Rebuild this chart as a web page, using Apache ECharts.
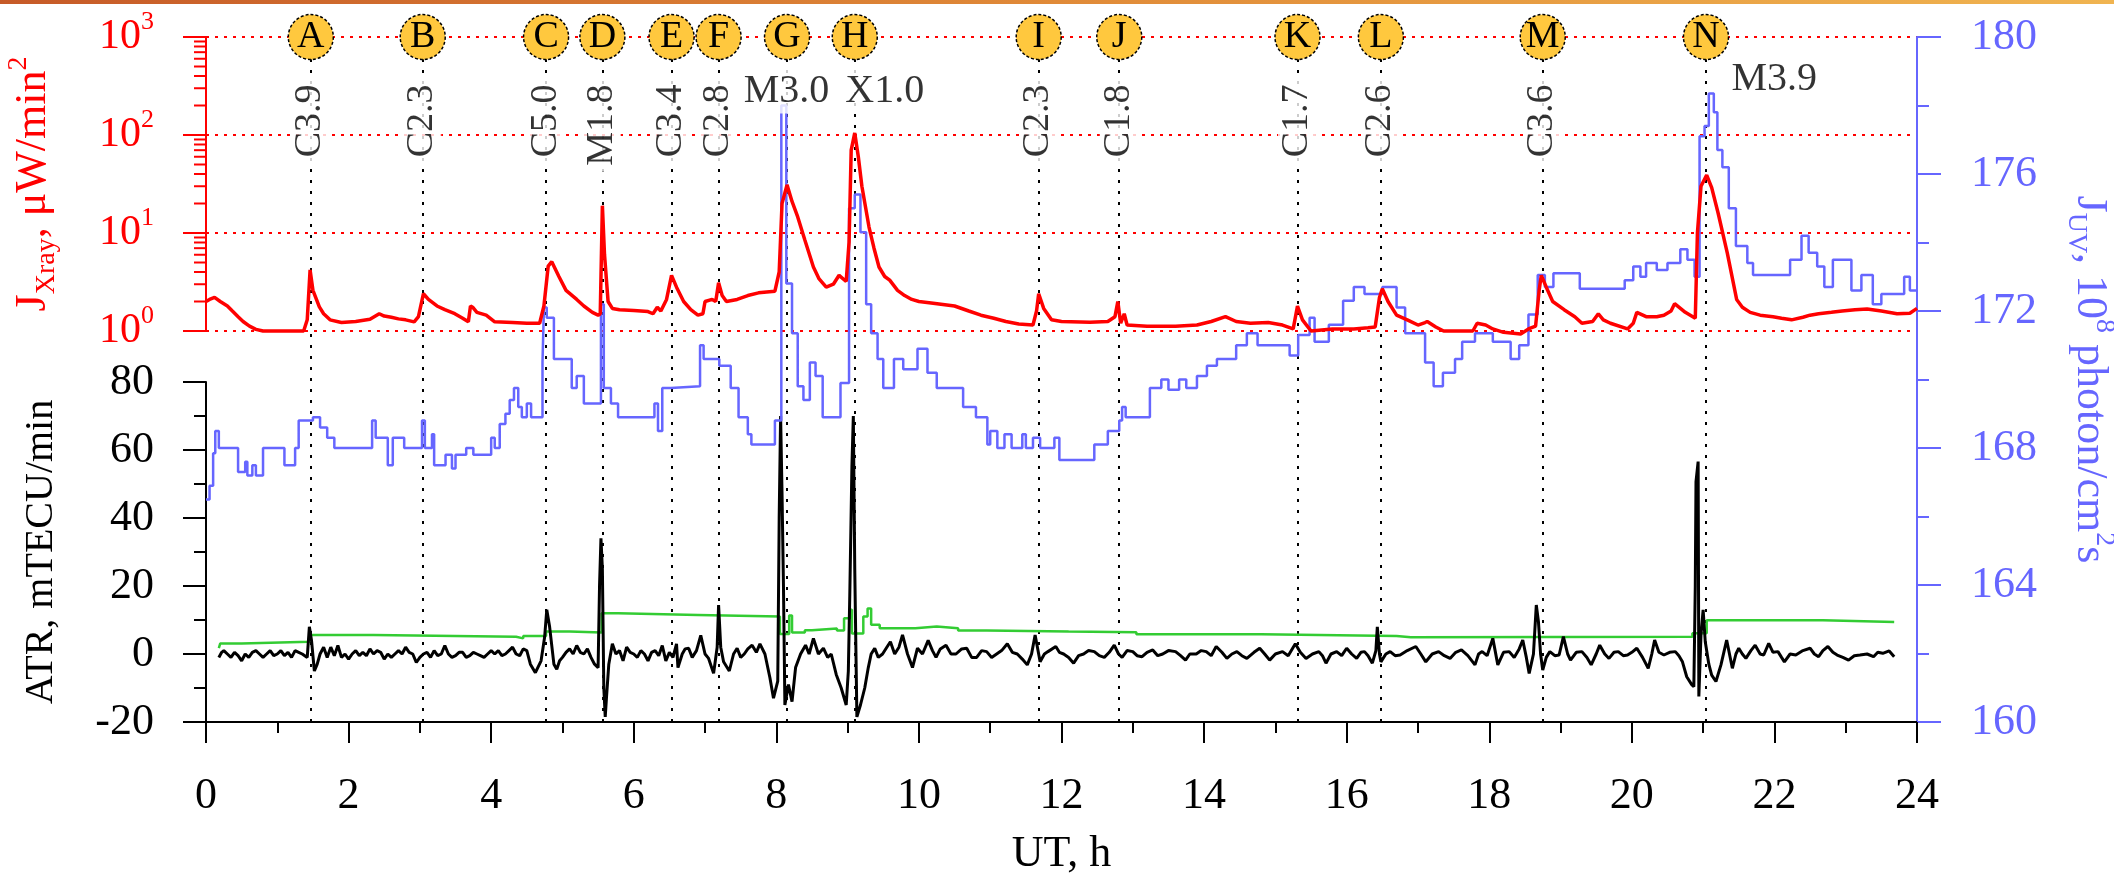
<!DOCTYPE html>
<html><head><meta charset="utf-8">
<script src="https://cdn.jsdelivr.net/npm/echarts@6/dist/echarts.min.js"></script>
<style>html,body{margin:0;padding:0;background:#fff}#c{width:2114px;height:876px}</style>
</head><body><div id="c"></div><script>
const FONT = 'Liberation Serif';
const RED = '#ff0000', BLUE = '#6666ff', GREEN = '#33cc33', BLACK = '#000000';

// ---- axes / ticks ----
const xTicks = [0, 2, 4, 6, 8, 10, 12, 14, 16, 18, 20, 22, 24];
const xrayTicks = [1, 10, 100, 1000];
const xrayMinorTicks = [2,3,4,5,6,7,8,9,20,30,40,50,60,70,80,90,200,300,400,500,600,700,800,900];
const atrTicks = [-20, 0, 20, 40, 60, 80];
const uvTicks = [160, 164, 168, 172, 176, 180];

// ---- flare events ----
const flareLetters = ['A','B','C','D','E','F','G','H','I','J','K','L','M','N'];
const flareTimes = [1.47, 3.04, 4.77, 5.56, 6.53, 7.19, 8.15, 9.10, 11.68, 12.81, 15.31, 16.48, 18.75, 21.04];
const flareClasses = ['C3.9','C2.3','C5.0','M1.8','C3.4','C2.8','M3.0','X1.0','C2.3','C1.8','C1.7','C2.6','C3.6','M3.9'];

// ---- X-ray flux, uW/min^2 (UT h, value) ----
const xrayFlux = [[0,2.0],[0.05,2.1],[0.12,2.2],[0.2,2.0],[0.3,1.8],[0.37,1.6],[0.45,1.4],[0.52,1.25],[0.61,1.12],[0.7,1.04],[0.8,1.0],[1.37,1.0],[1.42,1.3],[1.46,4.2],[1.5,2.6],[1.59,1.76],[1.65,1.5],[1.74,1.3],[1.9,1.22],[2.1,1.25],[2.3,1.32],[2.43,1.5],[2.5,1.42],[2.6,1.38],[2.7,1.33],[2.8,1.3],[2.92,1.24],[2.98,1.4],[3.05,2.4],[3.12,2.1],[3.24,1.8],[3.35,1.65],[3.49,1.5],[3.6,1.35],[3.68,1.24],[3.71,1.8],[3.74,1.75],[3.8,1.55],[3.93,1.45],[4.05,1.24],[4.3,1.22],[4.5,1.2],[4.68,1.2],[4.74,1.8],[4.8,4.6],[4.85,5.1],[4.95,3.6],[5.05,2.6],[5.2,2.1],[5.3,1.8],[5.42,1.55],[5.5,1.45],[5.53,1.5],[5.56,19],[5.59,6],[5.64,2.0],[5.7,1.7],[5.8,1.65],[6.0,1.62],[6.2,1.58],[6.27,1.5],[6.33,1.75],[6.38,1.6],[6.46,2.1],[6.53,3.7],[6.6,2.8],[6.7,2.0],[6.8,1.65],[6.9,1.45],[6.97,1.5],[7.0,2.0],[7.1,2.1],[7.15,2.0],[7.19,3.1],[7.24,2.3],[7.3,2.0],[7.45,2.1],[7.6,2.3],[7.75,2.45],[7.98,2.55],[8.04,4],[8.08,20],[8.15,31],[8.22,21],[8.3,14.6],[8.4,8.5],[8.52,4.5],[8.6,3.4],[8.7,2.8],[8.8,3.0],[8.88,3.7],[8.98,3.2],[9.02,8],[9.05,70],[9.1,105],[9.15,60],[9.2,30],[9.3,11.5],[9.37,7],[9.44,4.5],[9.52,3.6],[9.59,3.3],[9.7,2.6],[9.8,2.3],[9.9,2.1],[10.0,2.0],[10.2,1.92],[10.5,1.8],[10.7,1.6],[10.87,1.45],[11.05,1.35],[11.22,1.25],[11.4,1.18],[11.6,1.15],[11.65,1.6],[11.68,2.4],[11.75,1.7],[11.86,1.3],[12.0,1.25],[12.4,1.23],[12.65,1.25],[12.75,1.4],[12.79,2.0],[12.83,1.2],[12.88,1.5],[12.92,1.15],[13.2,1.12],[13.6,1.12],[13.9,1.15],[14.1,1.25],[14.3,1.4],[14.45,1.25],[14.65,1.2],[14.9,1.22],[15.1,1.15],[15.25,1.05],[15.31,1.8],[15.38,1.3],[15.5,1.0],[15.8,1.05],[16.1,1.05],[16.3,1.08],[16.4,1.1],[16.46,2.2],[16.5,2.7],[16.58,2.0],[16.7,1.45],[16.85,1.3],[17.0,1.15],[17.1,1.22],[17.13,1.25],[17.25,1.1],[17.36,1.0],[17.77,1.0],[17.83,1.2],[17.95,1.15],[18.05,1.05],[18.2,0.97],[18.44,0.93],[18.55,1.05],[18.65,1.12],[18.7,2.6],[18.73,3.7],[18.8,2.8],[18.89,2.0],[19.05,1.65],[19.2,1.4],[19.3,1.2],[19.45,1.25],[19.53,1.5],[19.6,1.3],[19.7,1.2],[19.94,1.05],[20.02,1.2],[20.07,1.55],[20.2,1.4],[20.35,1.4],[20.45,1.45],[20.55,1.6],[20.6,1.9],[20.75,1.55],[20.89,1.35],[20.92,10],[20.97,30],[21.05,39],[21.12,29],[21.21,16],[21.34,6.2],[21.47,2.1],[21.55,1.75],[21.66,1.55],[21.8,1.45],[21.98,1.4],[22.1,1.35],[22.24,1.3],[22.4,1.38],[22.5,1.45],[22.62,1.5],[22.8,1.55],[22.95,1.6],[23.13,1.65],[23.3,1.68],[23.5,1.6],[23.72,1.5],[23.9,1.52],[24.0,1.7]];

// ---- UV flux, 10^8 photon/cm^2 s (UT h, level held until next point) ----
const uvFlux = [[0,166.5],[0.05,166.9],[0.1,167.85],[0.13,168.5],[0.18,168.0],[0.45,167.3],[0.55,167.6],[0.58,167.2],[0.65,167.5],[0.7,167.2],[0.8,168.0],[1.1,167.5],[1.25,168.0],[1.3,168.8],[1.5,168.9],[1.6,168.6],[1.7,168.3],[1.8,168.0],[2.33,168.8],[2.38,168.3],[2.55,167.5],[2.62,168.3],[2.78,168.0],[3.03,168.8],[3.07,168.0],[3.17,168.4],[3.2,167.5],[3.36,167.8],[3.45,167.4],[3.5,167.8],[3.65,168.0],[3.75,167.8],[4.0,168.3],[4.05,168.0],[4.12,168.7],[4.2,169.0],[4.26,169.4],[4.32,169.75],[4.38,169.2],[4.43,168.9],[4.5,169.3],[4.56,168.9],[4.72,170.5],[4.74,172.1],[4.78,171.8],[4.88,170.6],[5.13,169.75],[5.2,170.1],[5.3,169.3],[5.54,172.2],[5.58,169.75],[5.68,169.3],[5.78,168.9],[6.29,169.3],[6.34,168.5],[6.4,169.75],[6.52,169.8],[6.93,171.0],[6.98,170.6],[7.2,170.4],[7.36,169.75],[7.47,168.9],[7.6,168.4],[7.65,168.1],[7.98,168.8],[8.07,178.0],[8.14,172.8],[8.22,171.35],[8.3,169.8],[8.38,169.4],[8.47,170.5],[8.55,170.1],[8.65,168.9],[8.9,169.9],[9.02,175.0],[9.1,175.4],[9.18,174.3],[9.26,172.2],[9.33,171.35],[9.42,170.6],[9.5,169.75],[9.65,170.6],[9.78,170.3],[9.98,170.9],[10.12,170.2],[10.25,169.75],[10.62,169.2],[10.8,168.9],[10.96,168.1],[11.0,168.5],[11.1,168.0],[11.2,168.4],[11.3,168.0],[11.45,168.4],[11.5,168.0],[11.6,168.3],[11.7,168.0],[11.9,168.3],[11.97,167.65],[12.46,168.1],[12.65,168.5],[12.81,168.8],[12.85,169.2],[12.9,168.9],[13.24,169.75],[13.4,170.0],[13.5,169.7],[13.65,170.0],[13.75,169.75],[13.9,170.1],[14.04,170.4],[14.18,170.6],[14.45,171.0],[14.6,171.35],[14.75,171.0],[15.2,170.7],[15.32,171.3],[15.48,171.8],[15.55,171.1],[15.75,171.6],[15.95,172.3],[16.1,172.7],[16.25,172.5],[16.5,172.7],[16.7,172.1],[16.82,171.35],[17.1,170.5],[17.22,169.8],[17.35,170.2],[17.52,170.6],[17.62,171.1],[17.8,171.35],[18.05,171.1],[18.3,170.6],[18.42,171.0],[18.55,171.9],[18.68,173.05],[18.78,172.7],[18.9,173.1],[19.27,172.65],[19.9,172.9],[20.02,173.3],[20.12,173.0],[20.2,173.4],[20.35,173.2],[20.5,173.4],[20.68,173.8],[20.78,173.5],[20.88,173.0],[20.95,177.1],[21.02,177.4],[21.08,178.35],[21.15,177.8],[21.2,176.7],[21.27,176.2],[21.36,175.0],[21.46,173.9],[21.62,173.4],[21.7,173.05],[22.22,173.5],[22.38,174.2],[22.48,173.7],[22.6,173.3],[22.7,172.7],[22.82,173.5],[23.08,172.6],[23.22,173.05],[23.38,172.2],[23.5,172.5],[23.82,173.0],[23.9,172.6],[24.0,172.6]];

// ---- ATR background level, mTECU/min (green) ----
const atrLevel = [[0.18,1.7],[0.2,3.1],[0.5,3.6],[1.45,5.6],[2.35,5.1],[4.35,4.6],[4.45,5.3],[4.77,6.6],[5.1,6.3],[5.55,12.0],[5.78,11.5],[6.9,11.0],[8.05,5.9],[8.18,11.3],[8.22,6.3],[8.4,7.0],[8.5,7.5],[8.85,6.9],[8.95,10.5],[9.03,13.0],[9.06,6.0],[9.22,11.0],[9.28,13.4],[9.33,8.6],[9.45,7.6],[9.95,8.1],[10.25,7.6],[10.55,6.9],[10.95,6.6],[12.1,6.4],[13.05,5.8],[14.8,5.3],[16.7,4.9],[16.9,5.1],[20.85,6.1],[21.05,9.9],[22.68,9.4],[23.68,9.4]];

// ---- ATR, mTECU/min (black) ----
const atr = [[0.18,-1],[0.22,0.5],[0.25,1],[0.3,0],[0.35,-1],[0.4,0.5],[0.45,-0.5],[0.5,-2],[0.55,0],[0.6,-1],[0.65,0.5],[0.7,1],[0.75,0],[0.8,-1],[0.85,0],[0.9,1],[0.95,-0.5],[1.0,0],[1.05,1],[1.1,-0.5],[1.15,0.5],[1.2,-1],[1.25,1],[1.3,0.5],[1.35,0],[1.42,-1],[1.45,8],[1.48,4],[1.52,-5],[1.56,-3],[1.6,0],[1.65,2],[1.7,-1],[1.75,2],[1.8,-0.5],[1.85,2.5],[1.9,-1],[1.95,0],[2.0,-1.5],[2.05,0],[2.1,1],[2.15,-0.5],[2.2,0.5],[2.25,-0.5],[2.3,1.5],[2.35,0],[2.4,1],[2.45,0.5],[2.5,-1.5],[2.55,0],[2.6,-1],[2.65,0],[2.7,1],[2.75,0],[2.8,2],[2.85,0.5],[2.9,0],[2.95,-2.5],[3.0,-1],[3.05,0],[3.1,0.5],[3.15,-1],[3.2,1],[3.25,-0.5],[3.3,0],[3.35,2.5],[3.4,0],[3.45,-1],[3.5,-0.5],[3.55,0.5],[3.6,0.5],[3.65,-1],[3.7,-0.5],[3.75,0.5],[3.8,0],[3.85,-0.5],[3.9,-1],[3.95,0],[4.0,1],[4.05,0],[4.1,1],[4.15,-0.5],[4.2,0],[4.25,1],[4.3,2],[4.35,0],[4.4,-0.5],[4.45,1.5],[4.5,1],[4.55,-3],[4.62,-5.5],[4.7,-2],[4.75,5],[4.78,13],[4.82,8],[4.88,-3],[4.92,-4.5],[4.96,-2],[5.0,-1],[5.05,0.5],[5.1,1.5],[5.15,0],[5.2,2.5],[5.25,0.5],[5.3,0],[5.35,1.5],[5.4,-1],[5.45,-3],[5.5,-4],[5.52,20],[5.54,34],[5.56,25],[5.58,-10],[5.6,-18.5],[5.62,-12],[5.65,-3],[5.7,3],[5.75,0],[5.8,1],[5.85,-2],[5.9,2],[5.95,0.5],[6.0,0],[6.05,-1],[6.1,1],[6.15,0],[6.2,-2],[6.25,0.5],[6.3,1],[6.35,-0.5],[6.4,2.5],[6.45,-2],[6.5,0.5],[6.55,-1],[6.6,3],[6.62,-4],[6.68,0],[6.72,1.5],[6.77,1.7],[6.82,-1],[6.88,1],[6.94,5.5],[7.0,0],[7.05,-1.3],[7.12,-5.7],[7.17,2],[7.19,14.4],[7.22,2],[7.26,-2.3],[7.34,-5],[7.4,0],[7.45,1.7],[7.5,-1],[7.55,0],[7.6,1.5],[7.66,2.6],[7.72,0.5],[7.77,3],[7.84,0],[7.91,-7],[7.96,-13],[8.02,-8],[8.04,40],[8.06,70],[8.08,47],[8.1,20],[8.12,-15],[8.17,-9],[8.22,-14],[8.27,-4],[8.34,0],[8.41,2.6],[8.46,0],[8.52,4.6],[8.59,0],[8.66,1.7],[8.72,-1],[8.77,0],[8.84,-6],[8.91,-10],[8.98,-15],[9.01,-5],[9.03,17],[9.06,55],[9.08,70],[9.1,25],[9.13,-18.5],[9.18,-15],[9.24,-10],[9.29,-4],[9.33,0],[9.38,1.7],[9.43,-1],[9.49,0],[9.55,2],[9.6,3.6],[9.66,0],[9.72,2],[9.77,5.6],[9.84,0],[9.91,-4],[9.98,1.7],[10.05,0],[10.13,4],[10.19,1],[10.24,-1],[10.3,1.5],[10.38,2.6],[10.45,0],[10.52,0],[10.6,1.5],[10.67,1.7],[10.74,-1],[10.81,-1],[10.88,1],[10.95,0.7],[11.02,-1],[11.09,0],[11.16,1],[11.24,3],[11.31,0.5],[11.38,0],[11.45,-1.5],[11.52,-3.2],[11.58,0],[11.63,5.6],[11.7,-2.3],[11.76,0],[11.81,0.7],[11.92,2.2],[11.97,0.5],[12.03,0],[12.1,-1],[12.17,-2.7],[12.24,-0.5],[12.31,0],[12.38,1],[12.46,0.7],[12.53,-0.5],[12.6,-1],[12.67,0.5],[12.74,2.6],[12.8,0],[12.85,-1],[12.92,1],[13.0,0.7],[13.06,-0.5],[13.13,-0.8],[13.2,0.5],[13.28,1.2],[13.35,-0.5],[13.42,0],[13.5,1],[13.6,0.7],[13.67,-0.5],[13.74,-1.8],[13.8,0],[13.89,0],[13.96,1],[14.03,0.7],[14.1,-0.5],[14.17,2.2],[14.25,0.5],[14.32,-1.3],[14.39,0],[14.46,0.7],[14.53,-0.5],[14.6,-1.3],[14.7,0.5],[14.78,1.7],[14.85,0],[14.92,-1.8],[15.0,0],[15.1,0.7],[15.18,-0.5],[15.28,3],[15.35,0.5],[15.43,-1.3],[15.52,0],[15.61,0.7],[15.66,-0.5],[15.71,-2.7],[15.78,0],[15.86,0.7],[15.93,-0.5],[16.0,1.7],[16.07,0],[16.14,-1.3],[16.2,0.5],[16.25,0.7],[16.3,-0.5],[16.36,-2.7],[16.41,1],[16.43,8],[16.46,0],[16.48,-2.3],[16.55,0],[16.61,0.7],[16.68,-0.5],[16.75,-0.3],[16.85,1],[16.97,2.2],[17.04,0],[17.11,-2.3],[17.2,0],[17.29,0.7],[17.37,-0.5],[17.45,-1.3],[17.53,0.5],[17.61,1.2],[17.7,-0.5],[17.8,-3.2],[17.85,0],[17.9,0.7],[17.97,-0.5],[18.05,4.6],[18.12,-3.2],[18.2,0.5],[18.28,0.7],[18.35,-1],[18.42,1.5],[18.47,4.1],[18.52,-1],[18.56,-5.7],[18.62,0],[18.66,14.4],[18.69,9.5],[18.72,0],[18.75,-4.7],[18.8,-1],[18.85,0.7],[18.92,-0.5],[18.98,-0.3],[19.04,5.1],[19.1,0],[19.14,-1.8],[19.22,0.5],[19.3,0.7],[19.37,-1],[19.43,-3.2],[19.5,0],[19.55,2.6],[19.62,0],[19.68,-1.3],[19.75,0.5],[19.81,0.7],[19.88,-0.5],[19.94,-0.3],[20.0,0.5],[20.07,1.7],[20.15,-1],[20.23,-4.2],[20.28,0],[20.32,4.1],[20.38,0.5],[20.45,-0.3],[20.53,0.5],[20.61,0.7],[20.66,-0.5],[20.71,-2.3],[20.77,-6.7],[20.84,-9],[20.87,-9.6],[20.89,20],[20.9,50.7],[20.93,56.6],[20.94,-12.5],[20.97,5.6],[21.0,13],[21.03,3.6],[21.08,-3],[21.12,-6.2],[21.18,-8.1],[21.25,-3.2],[21.33,4.1],[21.41,-4.2],[21.46,0],[21.5,1.7],[21.55,0],[21.6,-1.3],[21.67,1],[21.73,2.6],[21.8,0],[21.85,-0.3],[21.92,3.1],[21.98,0.5],[22.05,0.7],[22.1,-1],[22.14,-2.3],[22.22,0],[22.3,-0.3],[22.4,1],[22.5,1.7],[22.56,0],[22.62,-0.8],[22.68,1],[22.75,2.2],[22.82,0.5],[22.88,-0.3],[22.96,-1],[23.04,-1.8],[23.12,-0.5],[23.2,-0.3],[23.3,0],[23.39,-0.8],[23.45,0.5],[23.52,0.2],[23.61,0.9],[23.68,-0.8]];

// ---------------- layout / styling ----------------
const GL = 206, GR = 197;
const uvTop = uvTicks[uvTicks.length - 1];
const upright = {
  G: {position: [0, 55], align: 'center', bg: '#ffffff'},
  H: {position: [-11, 55], align: 'left', bg: '#ffffff'},
  N: {position: [24, 43], align: 'left', bg: 'transparent'}
};

const chart = echarts.init(document.getElementById('c'), null, {renderer: 'canvas'});

const xAxes = [0, 1, 2].map(i => ({
  gridIndex: i, type: 'value', min: xTicks[0], max: xTicks[xTicks.length - 1],
  interval: xTicks[1] - xTicks[0], show: i === 2,
  axisLine: {show: true, onZero: false, lineStyle: {color: BLACK, width: 2}},
  axisTick: {show: true, length: 21, lineStyle: {color: BLACK, width: 2}},
  minorTick: {show: true, splitNumber: 2, length: 11, lineStyle: {color: BLACK, width: 2}},
  axisLabel: {fontFamily: FONT, fontSize: 44, color: BLACK, margin: 52},
  splitLine: {show: false},
  name: i === 2 ? 'UT, h' : '', nameLocation: 'middle', nameGap: 110,
  nameTextStyle: {fontFamily: FONT, fontSize: 44, color: BLACK}
}));

const option = {
  animation: false,
  backgroundColor: '#ffffff',
  textStyle: {fontFamily: FONT},
  grid: [
    {left: GL, right: GR, top: 37, height: 294, outerBoundsMode: 'none', containLabel: false},
    {left: GL, right: GR, top: 382, height: 340, outerBoundsMode: 'none', containLabel: false},
    {left: GL, right: GR, top: 37, height: 685, outerBoundsMode: 'none', containLabel: false}
  ],
  xAxis: xAxes,
  yAxis: [
    {
      gridIndex: 0, type: 'log', logBase: 10, min: xrayTicks[0], max: xrayTicks[xrayTicks.length - 1],
      position: 'left',
      axisLine: {show: true, lineStyle: {color: RED, width: 2}},
      axisTick: {show: true, length: 23, lineStyle: {color: RED, width: 2}},
      splitLine: {show: true, lineStyle: {color: RED, type: [3, 6], width: 2}},
      axisLabel: {
        margin: 52, fontFamily: FONT,
        formatter: v => '{b|10}{s|' + Math.round(Math.log10(v)) + '}',
        rich: {
          b: {fontFamily: FONT, fontSize: 42, color: RED, lineHeight: 56},
          s: {fontFamily: FONT, fontSize: 26, color: RED, lineHeight: 26, verticalAlign: 'top'}
        }
      },
      name: '{t|J}{sub|Xray}{t|, μW/min}{sup|2}', nameLocation: 'middle', nameRotate: 90, nameGap: 145,
      nameTextStyle: {
        fontFamily: FONT,
        rich: {
          t: {fontFamily: FONT, fontSize: 44, color: RED, lineHeight: 56},
          sub: {fontFamily: FONT, fontSize: 28, color: RED, lineHeight: 28, verticalAlign: 'bottom'},
          sup: {fontFamily: FONT, fontSize: 28, color: RED, lineHeight: 28, verticalAlign: 'top'}
        }
      }
    },
    {
      gridIndex: 1, type: 'value', min: atrTicks[0], max: atrTicks[atrTicks.length - 1],
      interval: atrTicks[1] - atrTicks[0], position: 'left',
      axisLine: {show: true, onZero: false, lineStyle: {color: BLACK, width: 2}},
      axisTick: {show: true, length: 23, lineStyle: {color: BLACK, width: 2}},
      minorTick: {show: true, splitNumber: 2, length: 12, lineStyle: {color: BLACK, width: 2}},
      splitLine: {show: false},
      axisLabel: {fontFamily: FONT, fontSize: 44, color: BLACK, margin: 52},
      name: 'ATR, mTECU/min', nameLocation: 'middle', nameRotate: 90, nameGap: 145,
      nameTextStyle: {fontFamily: FONT, fontSize: 40, color: BLACK}
    },
    {
      gridIndex: 2, type: 'value', min: uvTicks[0], max: uvTop,
      interval: uvTicks[1] - uvTicks[0], position: 'right',
      axisLine: {show: true, onZero: false, lineStyle: {color: BLUE, width: 2}},
      axisTick: {show: true, length: 24, lineStyle: {color: BLUE, width: 2}},
      minorTick: {show: true, splitNumber: 2, length: 12, lineStyle: {color: BLUE, width: 2}},
      splitLine: {show: false},
      axisLabel: {fontFamily: FONT, fontSize: 44, color: BLUE, margin: 54},
      name: '{t|J}{sub|UV}{t|, 10}{sup|8}{t| photon/cm}{sup|2}{t|s}', nameLocation: 'middle', nameRotate: -90, nameGap: 145,
      nameTextStyle: {
        fontFamily: FONT,
        rich: {
          t: {fontFamily: FONT, fontSize: 44, color: BLUE, lineHeight: 56},
          sub: {fontFamily: FONT, fontSize: 28, color: BLUE, lineHeight: 28, verticalAlign: 'bottom'},
          sup: {fontFamily: FONT, fontSize: 28, color: BLUE, lineHeight: 28, verticalAlign: 'top'}
        }
      }
    }
  ],
  graphic: [{
    type: 'rect', left: 0, top: 0, z: 100,
    shape: {width: 2114, height: 4},
    style: {fill: new echarts.graphic.LinearGradient(0, 0, 1, 0, [
      {offset: 0, color: '#c65a28'}, {offset: 0.5, color: '#e08a38'}, {offset: 1, color: '#f0b450'}])}
  }],
  series: [
    {
      type: 'custom', xAxisIndex: 0, yAxisIndex: 0, z: 1, clip: false, silent: true,
      data: xrayMinorTicks.map(v => [xTicks[0], v]),
      renderItem: (params, api) => {
        const p = api.coord([api.value(0), api.value(1)]);
        return {type: 'line', shape: {x1: p[0] - 12, y1: p[1], x2: p[0], y2: p[1]},
                style: {stroke: RED, lineWidth: 2}};
      }
    },
    {
      type: 'scatter', xAxisIndex: 2, yAxisIndex: 2, data: [], silent: true,
      markLine: {
        silent: true, z: 1, animation: false, symbol: ['none', 'none'],
        label: {show: false},
        lineStyle: {color: BLACK, type: [3, 8], width: 2},
        emphasis: {disabled: true},
        data: flareTimes.map(t => ({xAxis: t}))
      }
    },
    {
      type: 'line', xAxisIndex: 1, yAxisIndex: 1, z: 2, data: atrLevel, step: 'end',
      showSymbol: false, symbol: 'none', clip: false,
      lineStyle: {color: GREEN, width: 2.5}
    },
    {
      type: 'line', xAxisIndex: 1, yAxisIndex: 1, z: 3, data: atr,
      showSymbol: false, symbol: 'none', clip: false,
      lineStyle: {color: BLACK, width: 3}
    },
    {
      type: 'line', xAxisIndex: 2, yAxisIndex: 2, z: 4, data: uvFlux, step: 'end',
      showSymbol: false, symbol: 'none', clip: false,
      lineStyle: {color: BLUE, width: 2.5}
    },
    {
      type: 'line', xAxisIndex: 0, yAxisIndex: 0, z: 5, data: xrayFlux,
      showSymbol: false, symbol: 'none', clip: false,
      lineStyle: {color: RED, width: 3.5}
    },
    {
      type: 'scatter', xAxisIndex: 2, yAxisIndex: 2, z: 10, silent: true, clip: false,
      symbol: 'circle', symbolSize: 45,
      itemStyle: {color: '#ffc83e', borderColor: BLACK, borderWidth: 1.5, borderType: [3, 2], opacity: 1},
      label: {show: true, position: 'inside', formatter: '{b}', fontFamily: FONT, fontSize: 38, color: BLACK},
      data: flareTimes.map((t, i) => ({name: flareLetters[i], value: [t, uvTop]}))
    },
    {
      type: 'scatter', xAxisIndex: 2, yAxisIndex: 2, z: 11, silent: true, clip: false,
      symbol: 'circle', symbolSize: 1, itemStyle: {color: 'rgba(0,0,0,0)'},
      data: flareTimes.map((t, i) => {
        const u = upright[flareLetters[i]];
        const label = u ? {
          show: true, formatter: flareClasses[i], rotate: 0, position: u.position, align: u.align,
          verticalAlign: 'middle', fontFamily: FONT, fontSize: 40, color: BLACK,
          backgroundColor: u.bg, padding: [2, 2, 2, 2]
        } : {
          show: true, formatter: flareClasses[i], rotate: 90, position: [0, 42], align: 'right',
          verticalAlign: 'middle', fontFamily: FONT, fontSize: 38, color: BLACK,
          backgroundColor: '#ffffff', padding: [0, 6, 0, 6]
        };
        return {name: flareClasses[i], value: [t, uvTop], label: label};
      })
    }
  ]
};
chart.setOption(option);
</script></body></html>
